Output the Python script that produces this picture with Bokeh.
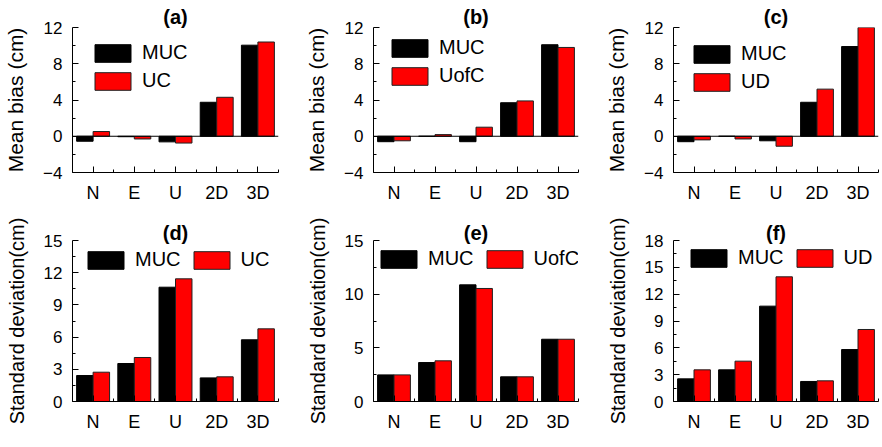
from bokeh.plotting import figure
from bokeh.models import Range1d, FixedTicker, Legend, LegendItem, Span
from bokeh.layouts import gridplot
from bokeh.embed import file_html
from bokeh.resources import INLINE

# ---------------- data ----------------
categories = ["N", "E", "U", "2D", "3D"]

# Mean bias (cm)
a_muc = [-0.55, -0.05, -0.62, 3.75, 10.05]
a_uc = [0.52, -0.3, -0.75, 4.3, 10.4]
b_muc = [-0.6, 0.0, -0.6, 3.7, 10.1]
b_uofc = [-0.5, 0.18, 1.0, 3.9, 9.8]
c_muc = [-0.6, 0.0, -0.5, 3.75, 9.9]
c_ud = [-0.4, -0.3, -1.1, 5.2, 12.0]

# Standard deviation (cm)
d_muc = [2.42, 3.54, 10.65, 2.2, 5.75]
d_uc = [2.73, 4.1, 11.43, 2.3, 6.77]
e_muc = [2.48, 3.63, 10.87, 2.3, 5.8]
e_uofc = [2.48, 3.79, 10.53, 2.3, 5.8]
f_muc = [2.53, 3.54, 10.66, 2.24, 5.81]
f_ud = [3.54, 4.51, 13.94, 2.31, 8.05]

bias_ticks = [-4, 0, 4, 8, 12]
bias_minor = [-2, 2, 6, 10]
sd_ticks_3 = [0, 3, 6, 9, 12, 15]
sd_minor_3 = [1.5, 4.5, 7.5, 10.5, 13.5]
sd_ticks_5 = [0, 5, 10, 15]
sd_minor_5 = [2.5, 7.5, 12.5]
sd_ticks_18 = [0, 3, 6, 9, 12, 15, 18]
sd_minor_18 = [1.5, 4.5, 7.5, 10.5, 13.5, 16.5]

FONT = "Liberation Sans"
BAR_W = 0.4
ITEM_H = 22


def make_panel(tag, ylabel, muc, other, other_name, yr, yticks, yminor,
               width, height, bl, br, bt, bb, horizontal, leg_dx, leg_dy, zero_line,
               title_standoff, ylabel_size):
    n = len(categories)
    xs = list(range(1, n + 1))
    p = figure(width=width, height=height, output_backend="svg", toolbar_location=None,
               x_range=Range1d(0.5, n + 0.5), y_range=Range1d(*yr),
               min_border_left=bl, min_border_right=br, min_border_top=bt,
               min_border_bottom=bb, title=tag)
    p.title.text_font = FONT
    p.title.text_font_size = "20px"
    p.title.text_font_style = "bold"
    p.title.text_color = "black"
    p.title.align = "center"
    p.title.standoff = title_standoff
    p.outline_line_color = None
    p.xgrid.visible = False
    p.ygrid.visible = False
    p.background_fill_color = "white"
    p.border_fill_color = "white"

    r1 = p.vbar(x=[x - BAR_W / 2 for x in xs], top=muc, bottom=0, width=BAR_W,
                fill_color="#000000", line_color="#000000", line_width=1)
    r2 = p.vbar(x=[x + BAR_W / 2 for x in xs], top=other, bottom=0, width=BAR_W,
                fill_color="#FF0000", line_color="#202020", line_width=1)

    if zero_line:
        p.add_layout(Span(location=0, dimension="width", line_color="black", line_width=1))

    # x axis
    xa = p.xaxis[0]
    xa.ticker = FixedTicker(ticks=xs, minor_ticks=[x - 0.5 for x in xs] + [n + 0.5])
    xa.major_label_overrides = {x: c for x, c in zip(xs, categories)}
    xa.major_label_text_font = FONT
    xa.major_label_text_font_size = "18px"
    xa.major_label_text_color = "black"
    xa.major_label_standoff = 10
    xa.major_tick_in = 6
    xa.major_tick_out = 0
    xa.minor_tick_in = 3
    xa.minor_tick_out = 0
    xa.axis_line_color = "black"
    xa.major_tick_line_color = "black"
    xa.minor_tick_line_color = "black"

    # y axis
    ya = p.yaxis[0]
    ya.ticker = FixedTicker(ticks=yticks, minor_ticks=yminor)
    ya.major_label_text_font = FONT
    ya.major_label_text_font_size = "17px"
    ya.major_label_text_color = "black"
    ya.major_label_standoff = 10
    ya.major_tick_in = 6
    ya.major_tick_out = 0
    ya.minor_tick_in = 3
    ya.minor_tick_out = 0
    ya.axis_line_color = "black"
    ya.major_tick_line_color = "black"
    ya.minor_tick_line_color = "black"
    ya.axis_label = ylabel
    ya.axis_label_text_font = FONT
    ya.axis_label_text_font_size = ylabel_size
    ya.axis_label_text_font_style = "normal"
    ya.axis_label_text_color = "black"
    ya.axis_label_standoff = 13

    frame_h = height - bt - bb
    if horizontal:
        leg_h = ITEM_H
    else:
        leg_h = 2 * ITEM_H + 5
    legend = Legend(items=[LegendItem(label="MUC", renderers=[r1]),
                           LegendItem(label=other_name, renderers=[r2])],
                    location=(leg_dx, frame_h - leg_dy - leg_h),
                    orientation="horizontal" if horizontal else "vertical",
                    glyph_width=45, glyph_height=ITEM_H, label_height=ITEM_H,
                    label_standoff=7, spacing=8 if horizontal else 5,
                    padding=0, margin=0,
                    border_line_color=None, background_fill_alpha=0,
                    label_text_font=FONT, label_text_font_size="20px",
                    label_text_color="black")
    p.add_layout(legend)
    return p


# column widths / row heights (page content starts at the top-left corner)
W1, W2, W3 = 290, 295, 296
H1, H2 = 215, 231

pa = make_panel("(a)", "Mean bias (cm)", a_muc, a_uc, "UC", (-4, 12), bias_ticks, bias_minor,
                W1, H1, 72, 12, 27, 43, False, 18, 16, True, 0, "21px")
pb = make_panel("(b)", "Mean bias (cm)", b_muc, b_uofc, "UofC", (-4, 12), bias_ticks, bias_minor,
                W2, H1, 83, 7, 27, 39, False, 14, 15, True, 0, "21px")
pc = make_panel("(c)", "Mean bias (cm)", c_muc, c_ud, "UD", (-4, 12), bias_ticks, bias_minor,
                W3, H1, 88, 3, 27, 43, False, 16, 17, True, 0, "21px")
pd_ = make_panel("(d)", "Standard deviation(cm)", d_muc, d_uc, "UC", (0, 15), sd_ticks_3, sd_minor_3,
                 W1, H2, 72, 12, 25, 45, True, 11, 9, False, -6, "20px")
pe = make_panel("(e)", "Standard deviation(cm)", e_muc, e_uofc, "UofC", (0, 15), sd_ticks_5, sd_minor_5,
                W2, H2, 83, 7, 25, 45, True, 3, 8, False, -6, "20px")
pf = make_panel("(f)", "Standard deviation(cm)", f_muc, f_ud, "UD", (0, 18), sd_ticks_18, sd_minor_18,
                W3, H2, 88, 3, 25, 45, True, 13, 7, False, -6, "20px")

grid = gridplot([[pa, pb, pc], [pd_, pe, pf]], toolbar_location=None)

open("out.html", "w").write(file_html(grid, INLINE))
